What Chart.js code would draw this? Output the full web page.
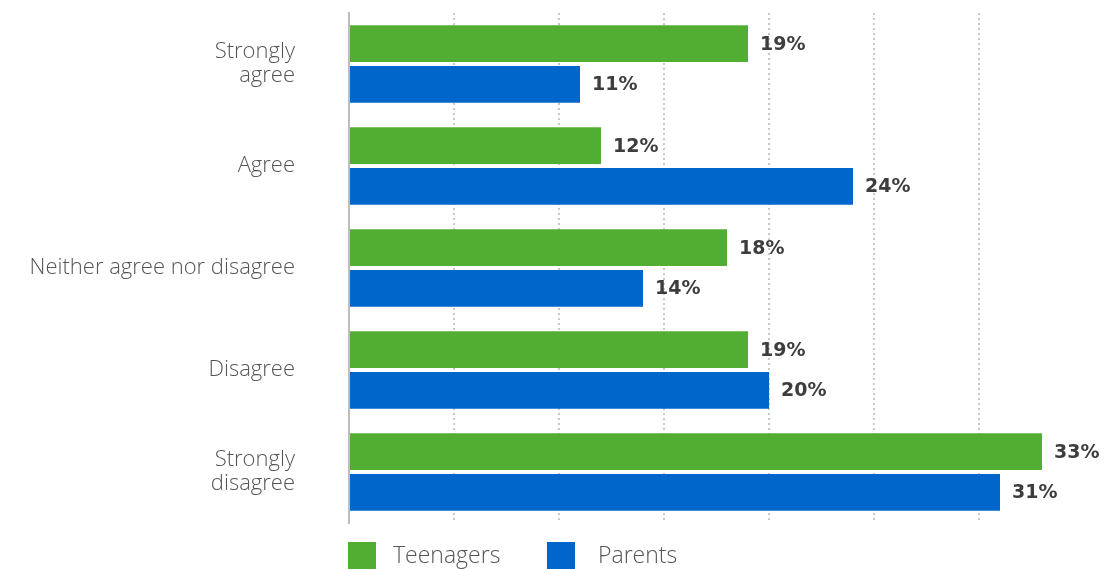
<!DOCTYPE html>
<html>
<head>
<meta charset="utf-8">
<script src="https://cdn.jsdelivr.net/npm/chart.js@4"></script>
<style>
  html, body { margin: 0; padding: 0; background: #fff; }
  #wrap { width: 1105px; height: 569px; }
</style>
</head>
<body>
<div id="wrap"><canvas id="surveyChart" width="1105" height="569"></canvas></div>
<script>
// 回答選項與兩組受訪者的百分比
const answers = [['Strongly', 'agree'], 'Agree', 'Neither agree nor disagree', 'Disagree', ['Strongly', 'disagree']];
const teenagers = [19, 12, 18, 19, 33];
const parents = [11, 24, 14, 20, 31];
const seriesNames = ['Teenagers', 'Parents'];
const seriesColors = ['#52ae32', '#0066cc'];

const LABEL_FONT = '"Open Sans", "DejaVu Sans", sans-serif';
const VALUE_FONT = '"DejaVu Sans", sans-serif';

// 在長條尾端寫上百分比
const valueLabels = {
    id: 'valueLabels',
    afterDatasetsDraw(chart) {
        const ctx = chart.ctx;
        ctx.save();
        ctx.font = 'bold 19px ' + VALUE_FONT;
        ctx.fillStyle = '#3d3d3d';
        ctx.textBaseline = 'middle';
        ctx.textAlign = 'left';
        chart.data.datasets.forEach((ds, i) => {
            chart.getDatasetMeta(i).data.forEach((bar, j) => {
                ctx.fillText(ds.data[j] + '%', bar.x + 12, bar.y + 1);
            });
        });
        ctx.restore();
    }
};

// 圖例畫在下方，對齊 Y 軸
const bottomLegend = {
    id: 'bottomLegend',
    afterDraw(chart) {
        const ctx = chart.ctx;
        const left = chart.chartArea.left - 1;
        const top = 542;
        const boxX = [0, 199];
        const textX = [45, 51];
        ctx.save();
        ctx.font = '300 23px ' + LABEL_FONT;
        ctx.textBaseline = 'middle';
        seriesNames.forEach((name, i) => {
            const x = left + boxX[i];
            ctx.fillStyle = seriesColors[i];
            ctx.fillRect(x, top, 28, 28);
            ctx.fillStyle = '#555';
            ctx.fillText(name, x + textX[i], top + 14);
        });
        ctx.restore();
    }
};

new Chart(document.getElementById('surveyChart'), {
    type: 'bar',
    data: {
        labels: answers,
        datasets: [
            { label: seriesNames[0], data: teenagers, backgroundColor: seriesColors[0] },
            { label: seriesNames[1], data: parents, backgroundColor: seriesColors[1] }
        ]
    },
    options: {
        indexAxis: 'y',
        responsive: false,
        animation: false,
        datasets: { bar: { categoryPercentage: 0.8, barPercentage: 0.9 } },
        layout: { padding: { top: 13, right: 21, bottom: 46, left: 0 } },
        plugins: {
            legend: { display: false },
            tooltip: { enabled: false }
        },
        scales: {
            x: {
                min: 0,
                max: 35,
                afterFit(scale) { scale.height = 0; },
                ticks: { display: false, stepSize: 5 },
                border: { display: false, dash: [2, 3] },
                grid: {
                    drawTicks: false,
                    lineWidth: 2,
                    color: (c) => (c.tick && (c.tick.value === 0 || c.tick.value === 35)) ? 'rgba(0,0,0,0)' : '#c8c8c8'
                }
            },
            y: {
                afterFit(scale) {
                    scale.width = 349;
                    scale.paddingTop = 0;
                    scale.paddingBottom = 0;
                },
                grid: { display: false, drawTicks: false },
                border: { display: true, color: '#bdbdbd', width: 2 },
                ticks: {
                    padding: 54,
                    color: '#555',
                    font: { family: LABEL_FONT, size: 22, weight: '300', lineHeight: 1.1 }
                }
            }
        }
    },
    plugins: [valueLabels, bottomLegend]
});
</script>
</body>
</html>
